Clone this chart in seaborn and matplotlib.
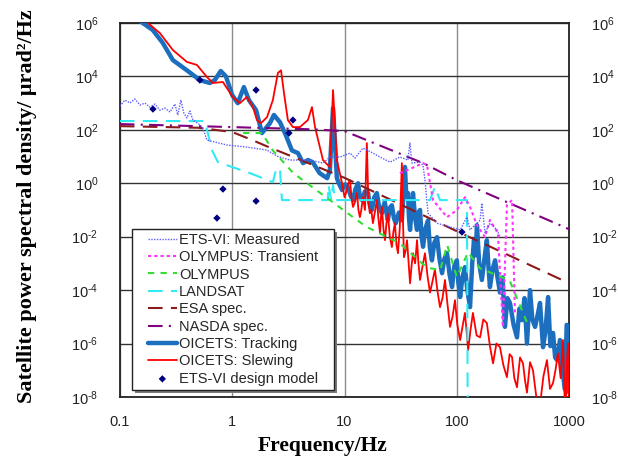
import matplotlib
matplotlib.use("Agg")
import matplotlib.pyplot as plt
from matplotlib.patches import Rectangle
import seaborn as sns

# ---- data (frequency in Hz, PSD in urad^2/Hz) ----
meas_f = [0.100, 0.111, 0.123, 0.136, 0.151, 0.167, 0.185, 0.205, 0.227, 0.252,
          0.279, 0.309, 0.328, 0.349, 0.371, 0.395, 0.420, 0.447, 0.475, 0.505,
          0.548, 0.595, 0.898, 1.35, 2.04, 2.50, 3.27, 4.92, 6.42, 7.41,
          9.10, 11.2, 12.4, 14.6, 17.9, 20.7, 25.4, 31.1, 36.7, 38.2,
          39.8, 46.9, 49.9, 52.0, 55.3, 66.5, 86.9, 107, 123, 131,
          161, 167, 178, 197, 228, 242]
meas_p = [780, 1310, 1010, 1430, 850, 1010, 710, 925, 550, 655,
          464, 925, 358, 1310, 426, 277, 506, 233, 196, 165,
          117, 41.5, 27, 22.7, 17.5, 10.4, 7.4, 7.4, 5.7, 9.6,
          9.6, 13.5, 8.8, 20.8, 13.5, 9.6, 6.2, 9.6, 7.4, 32,
          5.7, 6.2, 4.8, 1.32, 0.077, 0.032, 0.023, 0.018, 0.054, 0.018,
          0.042, 0.18, 0.0136, 0.032, 0.018, 0.0097]

trans_f = [31.1, 39.8, 49.9, 54.2, 61.3, 81.7, 100, 118, 131, 151,
           178, 197, 232, 257, 279, 310, 329]
trans_p = [2.4, 3.7, 5.7, 4.8, 0.235, 0.054, 0.099, 0.30, 0.13, 0.027,
           9.7e-3, 0.042, 0.0136, 4.1e-6, 0.153, 0.235, 1.4e-5]

olym_f = [1.25, 1.84, 2.3, 3.5, 12.9, 15.8, 31, 54, 71, 82, 100, 126, 160, 295, 420]
olym_p = [76, 76, 17, 2.4, 0.042, 0.023, 5.7e-3, 7e-4, 5.6e-4, 4.9e-3,
          3.1e-4, 2.6e-3, 6.6e-4, 2.3e-4, 6.3e-6]

land_f = [0.1, 0.571, 0.66, 0.746, 1.44, 2.30, 2.45, 2.66, 2.77, 7.1,
          7.2, 7.6, 7.9, 8.2, 57.6, 63.8, 70.8, 123, 125]
land_p = [214, 214, 17.5, 6.2, 2.4, 1.1, 3.1, 3.7, 0.235, 0.235,
          0.86, 0.235, 0.86, 0.235, 0.235, 0.72, 0.235, 0.235, 1e-9]

esa_f = [0.1, 0.5, 1.0, 1.44, 2.0, 10, 100, 1000]
esa_p = [138, 120, 83, 45, 25, 1.6, 1.6e-2, 1.8e-4]

nasda_f = [0.1, 1, 5, 10, 50, 100, 1000]
nasda_p = [165, 127, 105, 90, 5.7, 1.3, 0.019]

track_f = [0.13, 0.160, 0.196, 0.241, 0.296, 0.395, 0.515, 0.633, 0.70, 0.79,
           0.88, 1.0, 1.12, 1.27, 1.41, 1.63, 1.84, 2.17, 2.35, 2.66,
           3.0, 3.4, 3.85, 4.27, 4.72, 5.2, 6.0, 7.0, 7.4, 7.9,
           8.55, 9.0, 9.5, 10.1, 10.7, 11.3, 11.9, 12.5, 13.2, 13.7,
           14.3, 15.2, 16.2, 16.8, 17.5, 18.4, 19.4, 20.4, 21.5, 22.8,
           24.3, 25.3, 26.4, 27.5, 28.6, 30.5, 32.4, 33.5, 34.5, 35.5,
           36.7, 37.5, 38.3, 39.5, 40.7, 42.5, 44.2, 45.5, 47, 48.5,
           50, 52.5, 55.4, 57.5, 60, 63, 66.6, 70, 73.8, 77.5,
           81.7, 86, 90.6, 95, 100, 103, 107, 112, 118, 124,
           131, 137, 142, 147, 151, 158, 167, 176, 185, 191,
           197, 208, 219, 230, 242, 255, 268, 282, 297, 320,
           343, 360, 380, 400, 421, 448, 470, 497, 520, 550,
           585, 615, 649, 680, 718, 750, 780, 828, 870, 918,
           950, 977, 1000]
track_p = [1.8e6, 1e6, 5.5e5, 1.8e5, 4.1e4, 1.7e4, 7.3e3, 5.7e3, 7.3e3, 1.6e4,
           1.0e4, 2.0e3, 1.0e3, 4.0e3, 1.3e3, 550, 76, 180, 360, 195,
           64, 17, 13.5, 5.7, 7.4, 6.2, 2.4, 1.55, 3.1, 660,
           1.55, 0.9, 0.56, 0.9, 0.72, 0.35, 0.235, 0.6, 1.0, 0.3,
           0.235, 0.5, 0.43, 0.15, 0.1, 0.3, 0.43, 0.12, 0.076, 0.2,
           0.041, 0.12, 0.15, 0.05, 0.032, 0.08, 0.041, 0.5, 4.1, 0.3,
           0.43, 0.05, 0.018, 0.1, 0.43, 0.05, 0.018, 0.08, 0.1, 0.01,
           4.2e-3, 0.02, 0.041, 4e-3, 1.3e-3, 6e-3, 9.6e-3, 1.5e-3, 4.3e-4, 1.5e-3,
           2.4e-3, 4e-4, 1.3e-4, 8e-4, 1.3e-3, 2e-4, 5.5e-5, 3e-4, 7.2e-4, 1e-4,
           2.3e-5, 1e-3, 7.4e-3, 2e-3, 0.027, 1e-3, 2.4e-4, 1.5e-3, 7.4e-3, 8e-4,
           1.3e-4, 6e-4, 1.3e-3, 3e-4, 8.1e-5, 3e-4, 4.2e-6, 5e-5, 3.3e-5, 5e-6,
           1.7e-6, 2e-5, 7.5e-6, 5e-5, 1.0e-6, 1.0e-4, 8e-6, 4.2e-6, 1e-5, 3.3e-5,
           7.3e-7, 3e-6, 5.5e-5, 8e-7, 2.5e-6, 3e-7, 2.4e-7, 1.35e-6, 1e-7, 1.9e-8,
           5e-6, 4.2e-6, 1.45e-8]

slew_f = [0.145, 0.178, 0.227, 0.296, 0.395, 0.485, 0.596, 0.673, 0.826, 1.01,
          1.17, 1.35, 1.53, 1.66, 1.80, 2.04, 2.30, 2.55, 2.72, 2.89,
          3.13, 3.47, 4.0, 4.72, 5.13, 5.46, 6.43, 7.4, 7.9, 8.55,
          9.5, 10.0, 10.5, 10.8, 11.2, 11.5, 11.9, 12.4, 12.9, 13.3,
          13.7, 14.1, 14.6, 15.2, 15.8, 16.3, 16.8, 17.3, 17.9, 18.6,
          19.4, 20.0, 20.7, 21.1, 21.5, 22.2, 22.9, 23.6, 24.3, 25.3,
          26.4, 27.2, 28.1, 29.0, 29.9, 31.0, 32.4, 33.1, 33.8, 35,
          36, 37.2, 38.3, 39.5, 40.7, 42.5, 44.2, 45.5, 47, 49.5,
          52, 55, 57.7, 60.5, 63.8, 67, 70.8, 74.5, 78.4, 82.5,
          86.9, 91.5, 96.2, 101, 107, 112, 118, 122, 126, 132,
          139, 150, 161, 172, 185, 197, 210, 225, 242, 260,
          279, 295, 310, 325, 343, 365, 388, 405, 421, 448,
          476, 510, 550, 590, 634, 675, 718, 755, 794, 840,
          881, 910, 935, 955, 977, 1000]
slew_p = [4.7e6, 1e6, 4.2e5, 9.8e4, 3.5e4, 2.7e4, 9.5e3, 5.7e3, 6.2e3, 1.7e3,
          1e3, 1.7e3, 710, 233, 178, 297, 1.3e3, 1.35e4, 1.7e4, 2.4e3,
          233, 127, 127, 233, 710, 127, 7.4, 4.0, 3.1e3, 7.4,
          1.0, 0.3, 0.56, 1.0, 1.3, 0.3, 0.13, 0.2, 0.43, 0.1,
          0.054, 0.1, 0.30, 0.1, 32, 0.2, 0.076, 0.1, 0.032, 0.08,
          0.235, 0.05, 0.0136, 0.05, 0.13, 0.02, 7.4e-3, 0.03, 0.076, 0.01,
          4.1e-3, 0.015, 0.032, 5e-3, 2.4e-3, 0.02, 5.7, 0.05, 1.7e-3, 3e-3,
          7.4e-3, 1e-3, 1.8e-4, 8e-4, 2.4e-3, 1e-3, 7.4e-3, 1e-3, 2.4e-4, 8e-4,
          2.4e-3, 3e-4, 8.1e-5, 2e-4, 5.9e-4, 1e-4, 2.3e-5, 5e-5, 2.4e-4, 3e-5,
          4.2e-6, 1e-5, 4.2e-5, 5e-6, 1.35e-6, 4e-6, 1.4e-5, 3e-6, 5.6e-7, 3e-6,
          1.4e-5, 2e-6, 1.7e-6, 8e-6, 5.8e-6, 8e-7, 1.8e-7, 1e-6, 7.3e-7, 1.5e-7,
          5.5e-8, 4e-7, 3.1e-7, 5e-8, 2.3e-8, 3e-7, 1.8e-7, 4e-8, 1.45e-8, 2e-7,
          1e-7, 1e-8, 5e-9, 6e-8, 2.4e-7, 2e-8, 3.3e-8, 1e-7, 4.3e-7, 5e-8,
          1.35e-6, 1e-8, 5e-9, 2e-7, 1.0e-6, 5e-9]

model_f = [0.197, 0.515, 0.731, 0.827, 1.63, 1.63, 3.20, 3.47, 111]
model_p = [601, 7330, 0.0498, 0.607, 3100, 0.215, 76, 233, 0.0149]

x_ticks = [0.1, 1, 10, 100, 1000]
x_tick_labels = ["0.1", "1", "10", "100", "1000"]
y_exponents = [-8, -6, -4, -2, 0, 2, 4, 6]

sns.set_theme(style="white")
plt.rcParams["font.family"] = ["Liberation Sans", "DejaVu Sans"]

fig = plt.figure(figsize=(6.18, 4.61), dpi=100)
ax = fig.add_axes([0.194, 0.139, 0.727, 0.811])


def draw(xs, ys, label, **kw):
    sns.lineplot(x=xs, y=ys, ax=ax, label=label, sort=False, estimator=None, **kw)


draw(track_f, track_p, "OICETS: Tracking", color="#1c6fbf", lw=3.2, zorder=3)
draw(slew_f, slew_p, "OICETS: Slewing", color="#ff0000", lw=1.3, zorder=4)
draw(esa_f, esa_p, "ESA spec.", color="#8b1a1a", lw=1.5, linestyle=(0, (7, 4)), zorder=5)
draw(nasda_f, nasda_p, "NASDA spec.", color="#800080", lw=1.5, linestyle=(0, (7, 3, 1, 3)), zorder=5)
draw(land_f, land_p, "LANDSAT", color="#30eaf4", lw=1.5, linestyle=(0, (7, 4)), zorder=5)
draw(olym_f, olym_p, "OLYMPUS", color="#33dd33", lw=1.5, linestyle=(0, (3, 3)), zorder=5)
draw(trans_f, trans_p, "OLYMPUS: Transient", color="#ff33ff", lw=1.5, linestyle=(0, (1.5, 1.5)), zorder=6)
draw(meas_f, meas_p, "ETS-VI: Measured", color="#5b5bff", lw=1.0, linestyle=(0, (1, 1)), zorder=6)
sns.scatterplot(x=model_f, y=model_p, ax=ax, label="ETS-VI design model", marker="D",
                color="#000080", s=14, edgecolor="none", zorder=7)

ax.set_xscale("log")
ax.set_yscale("log")
ax.set_xlim(0.1, 1000)
ax.set_ylim(1e-8, 1e6)

ax.set_xticks(x_ticks)
ax.set_xticklabels(x_tick_labels)
y_ticks = [10.0 ** e for e in y_exponents]
ax.set_yticks(y_ticks)
# hyphen (U+2010) instead of a wide minus, as in the source figure
ax.set_yticklabels([r"$\mathregular{10^{%s}}$" % str(e).replace("-", "\u2010")
                    for e in y_exponents])
ax.minorticks_off()
ax.tick_params(axis="both", length=0, labelsize=10.5, colors="#222222")
ax.tick_params(axis="x", pad=13)
ax.tick_params(axis="y", pad=15.5, labelright=True)

ax.xaxis.grid(True, color="#8c8c8c", lw=1.0)
ax.yaxis.grid(True, color="#333333", lw=1.0)
for side in ["left", "right", "top", "bottom"]:
    ax.spines[side].set_visible(True)
    ax.spines[side].set_color("#222222")
    ax.spines[side].set_linewidth(1.3)

ax.set_xlabel("Frequency/Hz", fontfamily="Liberation Serif", fontweight="bold",
              fontsize=15.5, color="black")
ax.xaxis.set_label_coords(0.45, -0.105)
ax.set_ylabel("Satellite power spectral density/ μrad²/Hz", fontfamily="Liberation Serif",
              fontweight="bold", fontsize=16, color="black")
ax.yaxis.set_label_coords(-0.185, 0.51)

order = ["ETS-VI: Measured", "OLYMPUS: Transient", "OLYMPUS", "LANDSAT", "ESA spec.",
         "NASDA spec.", "OICETS: Tracking", "OICETS: Slewing", "ETS-VI design model"]
handles, labels = ax.get_legend_handles_labels()
hmap = dict(zip(labels, handles))
leg = ax.legend([hmap[k] for k in order], order, loc="lower left",
                bbox_to_anchor=(0.062, 0.03), fontsize=10.5, frameon=False,
                handlelength=2.0, handletextpad=0.15, labelspacing=0.23,
                borderpad=0.0, borderaxespad=0)
leg.set_zorder(10)

# box around the legend: wide side padding, tight top/bottom, with a drop shadow
fig.canvas.draw()
bb = leg.get_window_extent()
W, H = fig.bbox.width, fig.bbox.height
padx, pady = 16, 4
x0, y0 = (bb.x0 - padx) / W, (bb.y0 - pady) / H
bw, bh = (bb.width + 2 * padx) / W, (bb.height + 2 * pady) / H
fig.patches.append(Rectangle((x0 + 3 / W, y0 - 3 / H), bw, bh, transform=fig.transFigure,
                             facecolor="#7a7a7a", edgecolor="none", zorder=8))
fig.patches.append(Rectangle((x0, y0), bw, bh, transform=fig.transFigure,
                             facecolor="white", edgecolor="#222222", lw=1.0, zorder=9))
leg.remove()
fig.legends.append(leg)
leg.set_figure(fig)

fig.savefig("out.png", dpi=100)
